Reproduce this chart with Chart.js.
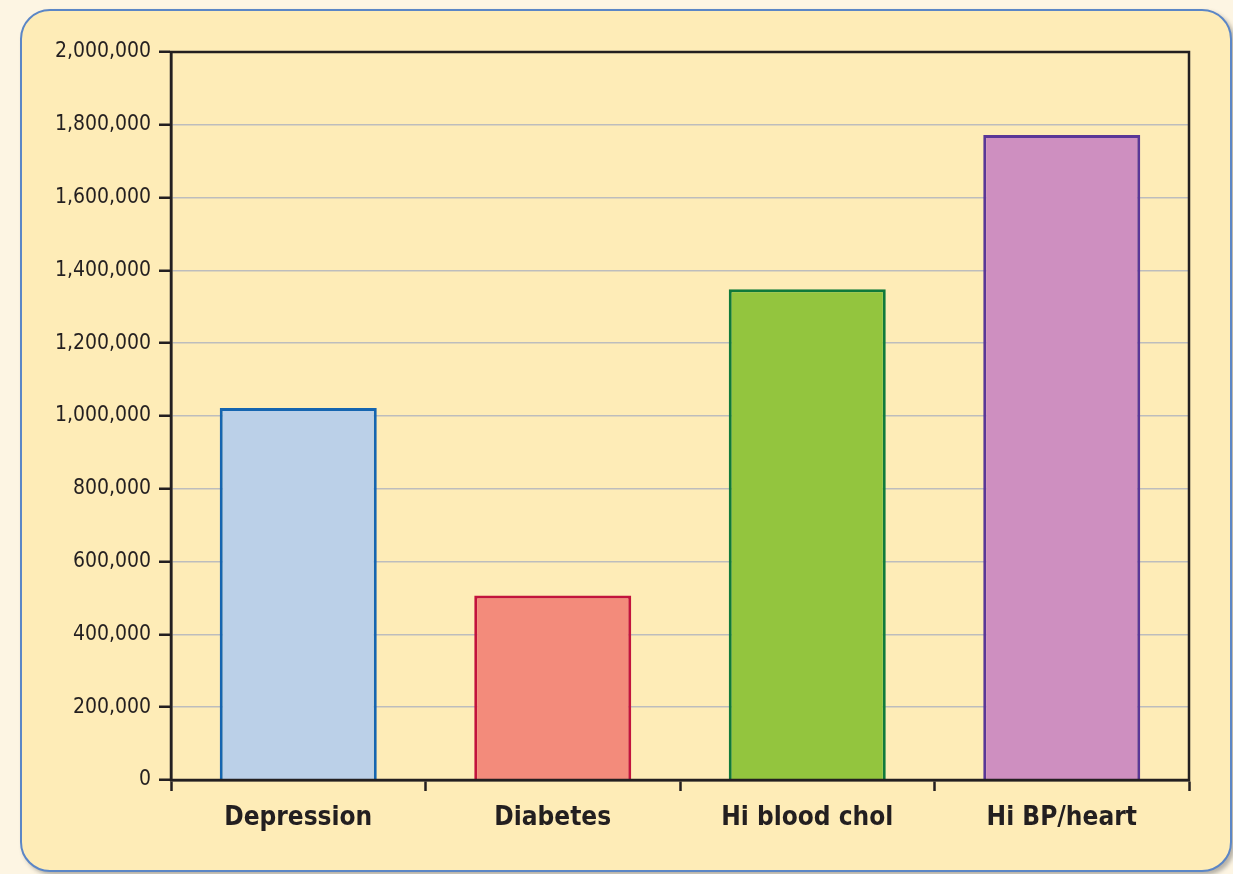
<!DOCTYPE html>
<html>
<head>
<meta charset="utf-8">
<script src="https://cdn.jsdelivr.net/npm/chart.js@4/dist/chart.umd.min.js"></script>
<style>
  html, body { margin: 0; padding: 0; width: 1233px; height: 874px; overflow: hidden; background: #fdf5e3; }
  #panel {
    position: absolute; left: 20px; top: 9px; width: 1208px; height: 859px;
    background: #feecb7; border: 2px solid #5b86c6; border-radius: 30px;
    box-shadow: 3px 3px 4px rgba(90, 90, 90, 0.45);
  }
  #wrap { position: absolute; left: 0; top: 0; width: 1233px; height: 874px; }
</style>
</head>
<body>
<div id="panel"></div>
<div id="wrap"><canvas id="chart" width="1233" height="874"></canvas></div>
<script>
// Number of people per condition
const categories = ['Depression', 'Diabetes', 'Hi blood chol', 'Hi BP/heart'];
const values = [1022000, 507000, 1348000, 1772000];
const fillColors = ['#bbd0e8', '#f38b7b', '#93c53e', '#ce8fc0'];
const edgeColors = ['#1565b0', '#c2143d', '#0f7a3a', '#5a3797'];
const yTickValues = [0, 200000, 400000, 600000, 800000, 1000000, 1200000, 1400000, 1600000, 1800000, 2000000];

const ink = '#231f20';
const narrow = "'DejaVu Sans Condensed', 'Liberation Sans Narrow', sans-serif";

// Black frame around the plot area
const frame = {
  id: 'frame',
  afterDatasetsDraw(chart) {
    const a = chart.chartArea;
    const ctx = chart.ctx;
    ctx.save();
    ctx.strokeStyle = ink;
    ctx.lineWidth = 2.5;
    ctx.strokeRect(a.left, a.top, a.right - a.left, a.bottom - a.top);
    ctx.restore();
  }
};

new Chart(document.getElementById('chart'), {
  type: 'bar',
  data: {
    labels: categories,
    datasets: [{
      data: values,
      backgroundColor: fillColors,
      borderColor: edgeColors,
      borderWidth: 3,
      barPercentage: 0.617,
      categoryPercentage: 1
    }]
  },
  options: {
    responsive: false,
    animation: false,
    devicePixelRatio: 1,
    layout: { padding: { left: 0, top: 52, right: 44, bottom: 0 } },
    plugins: { legend: { display: false }, tooltip: { enabled: false } },
    scales: {
      x: {
        grid: { offset: true, drawOnChartArea: false, tickLength: 11, tickColor: ink, tickWidth: 2.5 },
        border: { color: ink, width: 2.5 },
        ticks: {
          color: ink, padding: 12, maxRotation: 0,
          font: { family: narrow, size: 26, weight: 'bold' }
        },
        afterFit(scale) { scale.height = 94; }
      },
      y: {
        min: 0, max: 2000000,
        afterBuildTicks(scale) { scale.ticks = yTickValues.map(v => ({ value: v })); },
        grid: { color: '#bdbdbd', lineWidth: 1.5, tickLength: 12, tickColor: ink, tickWidth: 2.5 },
        border: { color: ink, width: 2.5 },
        ticks: {
          color: ink, padding: 8,
          font: { family: narrow, size: 21 },
          callback: v => v.toLocaleString('en-US')
        },
        afterFit(scale) { scale.width = 171; }
      }
    }
  },
  plugins: [frame]
});
</script>
</body>
</html>
